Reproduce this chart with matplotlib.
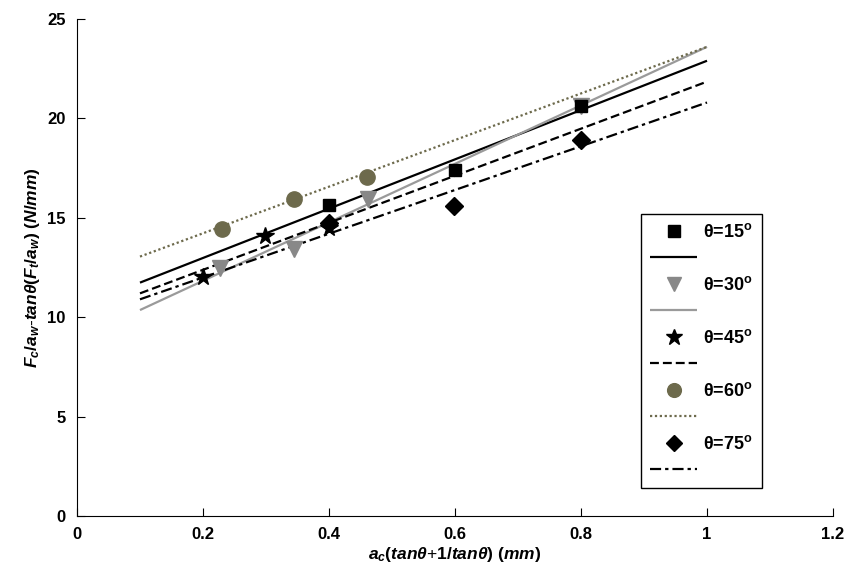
import matplotlib
matplotlib.use("Agg")
import matplotlib.pyplot as plt
from matplotlib.lines import Line2D

plt.rcParams['font.family'] = ['Liberation Sans', 'DejaVu Sans']
plt.rcParams['mathtext.fontset'] = 'custom'
plt.rcParams['mathtext.rm'] = 'Liberation Sans:bold'
plt.rcParams['mathtext.it'] = 'Liberation Sans:italic:bold'
plt.rcParams['mathtext.bf'] = 'Liberation Sans:bold'

# measured points per angle
x15 = [0.4, 0.6, 0.8]
y15 = [15.65, 17.4, 20.6]
x30 = [0.227, 0.345, 0.462, 0.8]
y30 = [12.5, 13.45, 15.95, 20.6]
x45 = [0.2, 0.298, 0.4]
y45 = [12.0, 14.1, 14.5]
x60 = [0.23, 0.345, 0.461]
y60 = [14.45, 15.95, 17.05]
x75 = [0.4, 0.598, 0.8]
y75 = [14.75, 15.6, 18.9]

# fitted lines, end points
fit_x = [0.1, 1.0]
fit15 = [11.74, 22.9]
fit30 = [10.36, 23.6]
fit45 = [11.2, 21.85]
fit60 = [13.05, 23.6]
fit75 = [10.9, 20.8]

labels = ['θ=15$^\\mathbf{o}$', 'θ=30$^\\mathbf{o}$', 'θ=45$^\\mathbf{o}$',
          'θ=60$^\\mathbf{o}$', 'θ=75$^\\mathbf{o}$']
xticks = [0, 0.2, 0.4, 0.6, 0.8, 1, 1.2]
xticklabels = ['0', '0.2', '0.4', '0.6', '0.8', '1', '1.2']
yticks = [0, 5, 10, 15, 20, 25]

olive = '#6d6a4c'
# marker, marker colour, size, line colour, dash, marker zorder
series = [
    (x15, y15, fit15, 's', 'k', 9, 'k', (0, ()), 4),
    (x30, y30, fit30, 'v', '#888888', 11, '#9a9a9a', (0, ()), 3),
    (x45, y45, fit45, '*', 'k', 13, 'k', (0, (4, 1.8)), 4),
    (x60, y60, fit60, 'o', olive, 11, olive, (0, (1, 1.2)), 4),
    (x75, y75, fit75, 'D', 'k', 9, 'k', (0, (5, 1.8, 1.5, 1.8)), 4),
]

fig = plt.figure(figsize=(8.61, 5.69), dpi=100)
ax = fig.add_axes([0.0894, 0.0931, 0.8781, 0.8735])

handles = []
hlabels = []
for xs, ys, fit, mk, mc, ms, lc, ls, z in series:
    ax.plot(fit_x, fit, color=lc, linestyle=ls, lw=1.6, zorder=2)
for (xs, ys, fit, mk, mc, ms, lc, ls, z), lab in zip(series, labels):
    ax.plot(xs, ys, marker=mk, ls='none', color=mc, ms=ms, zorder=z)
    # legend: marker row with label, then line row without
    handles.append(Line2D([], [], marker=mk, ls='none', color=mc, ms=ms * 0.9))
    hlabels.append(lab)
    handles.append(Line2D([], [], color=lc, linestyle=ls, lw=1.6))
    hlabels.append(' ')

ax.set_xlim(0, 1.2)
ax.set_ylim(0, 25)
ax.set_xticks(xticks)
ax.set_xticklabels(xticklabels)
ax.set_yticks(yticks)
for s in ['top', 'right']:
    ax.spines[s].set_visible(False)
ax.tick_params(direction='in', length=6, labelsize=12, pad=8)
for t in ax.get_xticklabels() + ax.get_yticklabels():
    t.set_fontweight('bold')

ax.set_xlabel(r'$a_c(tan\theta$+$1/tan\theta)$ $(mm)$', fontsize=12.5, labelpad=2)
ax.set_ylabel(r'$F_c/a_w$-$tan\theta(F_t/a_w)$ $(N/mm)$', fontsize=12.5, labelpad=4)

leg = ax.legend(handles, hlabels, loc='upper left',
                bbox_to_anchor=(641 / 861, 1 - 214 / 569),
                bbox_transform=fig.transFigure, borderaxespad=0,
                fontsize=13, handlelength=2.6, labelspacing=0.5,
                handletextpad=0.35, borderpad=0.5, fancybox=False,
                edgecolor='k', framealpha=1)
leg.get_frame().set_linewidth(1.0)
for t in leg.get_texts():
    t.set_fontweight('bold')

fig.savefig('out.png', dpi=100)
